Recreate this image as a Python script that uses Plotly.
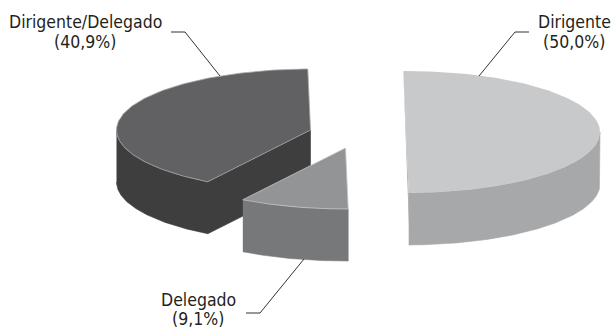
import numpy as np
import plotly.graph_objects as go

labels = ["Dirigente/Delegado", "Delegado", "Dirigente"]
shares = [40.9, 9.1, 50.0]

START_ANGLE = 90.8
RX, RY, DEPTH = 194, 61, 52
centers = [(310.5, 130), (345.5, 148), (406, 132)]
top_colors = ["#616163", "#939496", "#c8c9cb"]
side_colors = ["#3e3e3f", "#77787a", "#a7a8aa"]
edge_colors = ["#a9aaac", "#c4c5c7", "#c8c9cb"]
label_x = [85, 198, 574]
label_y = [(22, 42), (300, 319), (22, 42)]
leaders = [
    ([171, 185, 220], [32, 32, 76]),
    ([246, 260, 304], [313, 313, 259]),
    ([529, 515, 479], [32, 32, 76]),
]


def ellipse(cx, cy, a0, a1):
    t = np.radians(np.linspace(a0, a1, 120))
    return cx + RX * np.cos(t), cy - RY * np.sin(t)


def add_poly(fig, x, y, color, line_color=None, width=0):
    fig.add_trace(go.Scatter(
        x=list(x), y=list(y),
        mode="lines",
        fill="toself",
        fillcolor=color,
        line=dict(color=line_color or color, width=width),
        hoverinfo="skip",
        showlegend=False
    ))


fig = go.Figure()

angles = START_ANGLE + np.cumsum([0] + shares) * 3.6

for i, share in enumerate(shares):
    cx, cy = centers[i]
    a0, a1 = angles[i], angles[i + 1]

    # wall: the part of the rim facing the viewer, plus the cut under the front radius on the dark slice
    wx, wy = ellipse(cx, cy, max(a0, 180), min(a1, 360))
    if i == 0:
        wx, wy = np.append(wx, cx), np.append(wy, cy)
    add_poly(fig,
             np.concatenate([wx, wx[::-1]]),
             np.concatenate([wy, wy[::-1] + DEPTH]),
             side_colors[i], None, 0.6)

    if i == 2:
        # thin sliver of the cut face on the left of the light slice
        ex0, ey0 = ellipse(cx, cy, a0, a0)
        ex1, ey1 = ellipse(cx, cy, a1, a1)
        add_poly(fig,
                 [ex1[0], ex0[0], ex0[0] + 1],
                 [ey1[0], ey0[0], ey0[0] + DEPTH],
                 side_colors[i])

    tx, ty = ellipse(cx, cy, a0, a1)
    add_poly(fig,
             np.concatenate([[cx], tx, [cx]]) if i < 2 else tx,
             np.concatenate([[cy], ty, [cy]]) if i < 2 else ty,
             top_colors[i], edge_colors[i], 0.8 if i < 2 else 0)

for lx, ly in leaders:
    fig.add_trace(go.Scatter(
        x=lx, y=ly,
        mode="lines",
        line=dict(color="#333333", width=1),
        hoverinfo="skip",
        showlegend=False
    ))

for label, share, x, (y1, y2) in zip(labels, shares, label_x, label_y):
    pct = f"{share:.1f}".replace(".", ",")
    for text, y in [(label, y1), (f"({pct}%)", y2)]:
        fig.add_annotation(
            x=x, y=y,
            text=text,
            showarrow=False,
            xanchor="center",
            yanchor="middle",
            font=dict(family="DejaVu Sans Condensed, Roboto, Liberation Sans", size=17.5, color="#231f20")
        )

fig.update_layout(
    width=612,
    height=328,
    margin=dict(l=0, r=0, t=0, b=0),
    paper_bgcolor="white",
    plot_bgcolor="white",
    showlegend=False,
    xaxis=dict(range=[0, 612], visible=False, fixedrange=True),
    yaxis=dict(range=[328, 0], visible=False, fixedrange=True)
)

# drop the browser's default body margin so the plot fills the window
fig.write_html("out.html", config=dict(displayModeBar=False),
               post_script="document.body.style.margin = '0';")
